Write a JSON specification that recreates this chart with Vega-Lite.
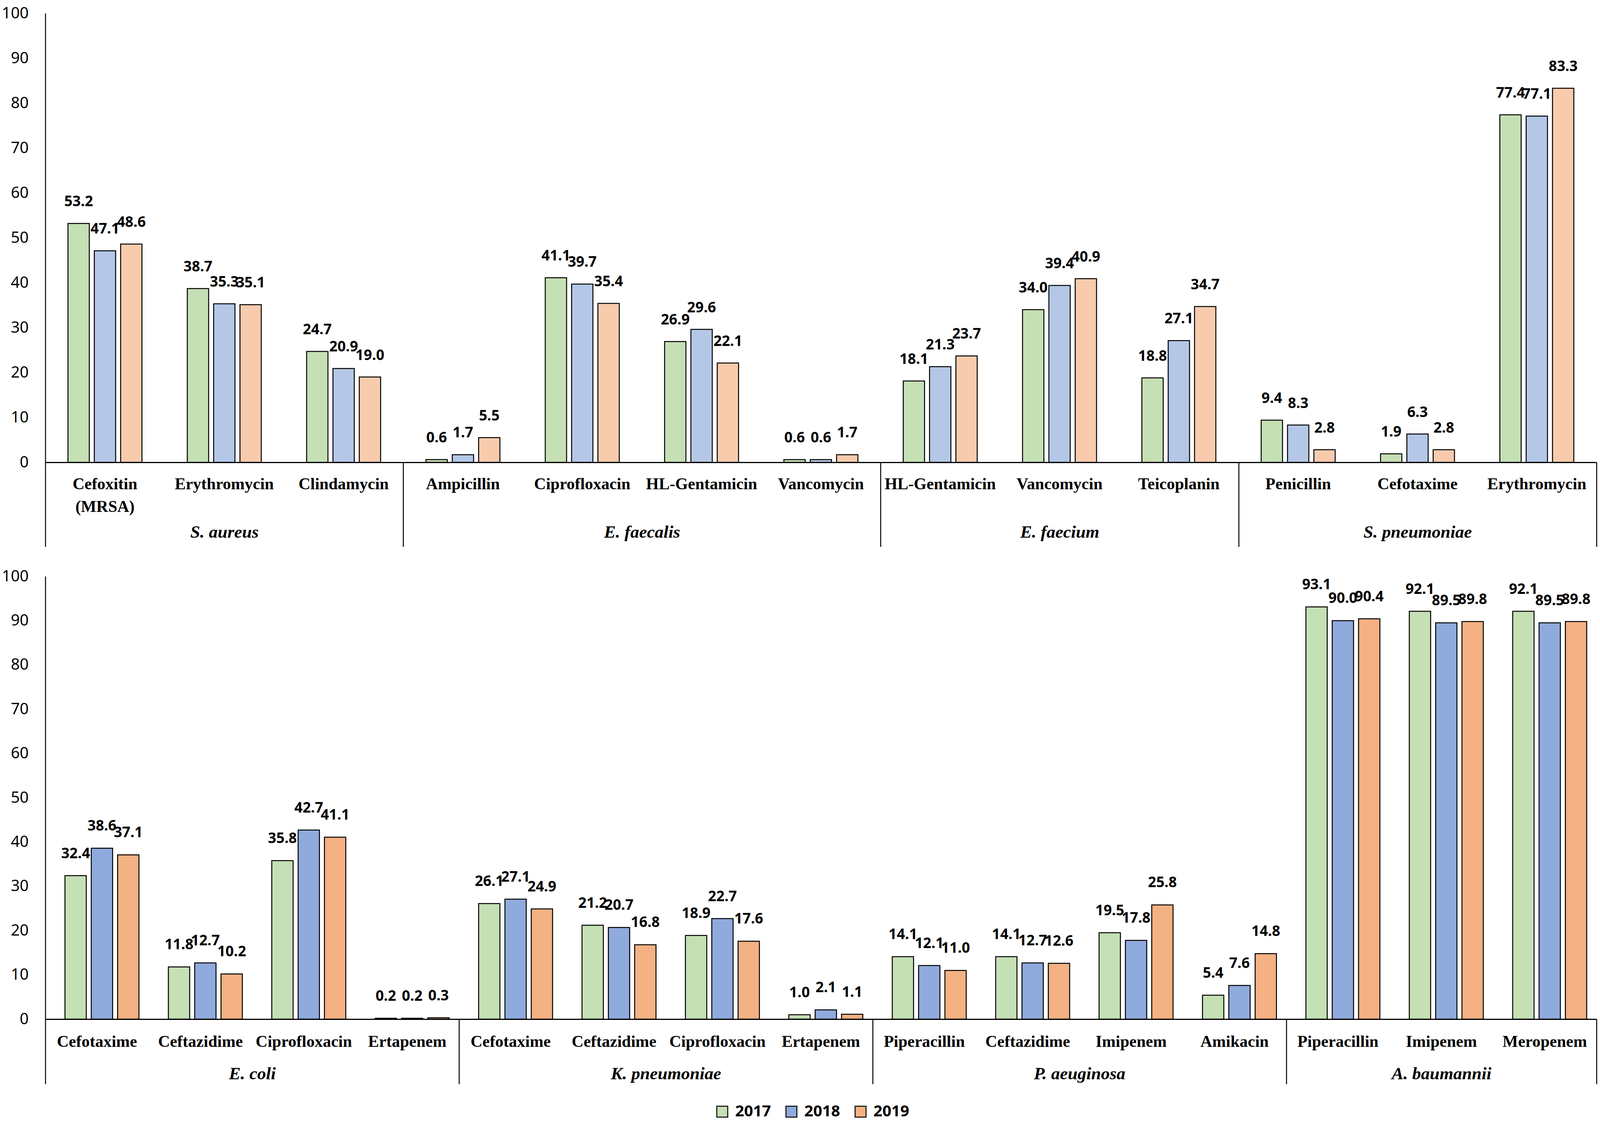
{
  "$schema": "https://vega.github.io/schema/vega-lite/v6.json",
  "background": "white",
  "padding": {"left": 4, "top": 14, "right": 5, "bottom": 5},
  "config": {
    "view": {"stroke": null},
    "axis": {"grid": false, "domainColor": "black", "labelColor": "black", "tickColor": "black"}
  },
  "datasets": {
    "top": [
      {"org": "S. aureus", "drug": "Cefoxitin (MRSA)", "year": "2017", "value": 53.2},
      {"org": "S. aureus", "drug": "Cefoxitin (MRSA)", "year": "2018", "value": 47.1},
      {"org": "S. aureus", "drug": "Cefoxitin (MRSA)", "year": "2019", "value": 48.6},
      {"org": "S. aureus", "drug": "Erythromycin", "year": "2017", "value": 38.7},
      {"org": "S. aureus", "drug": "Erythromycin", "year": "2018", "value": 35.3},
      {"org": "S. aureus", "drug": "Erythromycin", "year": "2019", "value": 35.1},
      {"org": "S. aureus", "drug": "Clindamycin", "year": "2017", "value": 24.7},
      {"org": "S. aureus", "drug": "Clindamycin", "year": "2018", "value": 20.9},
      {"org": "S. aureus", "drug": "Clindamycin", "year": "2019", "value": 19.0},
      {"org": "E. faecalis", "drug": "Ampicillin", "year": "2017", "value": 0.6},
      {"org": "E. faecalis", "drug": "Ampicillin", "year": "2018", "value": 1.7},
      {"org": "E. faecalis", "drug": "Ampicillin", "year": "2019", "value": 5.5},
      {"org": "E. faecalis", "drug": "Ciprofloxacin", "year": "2017", "value": 41.1},
      {"org": "E. faecalis", "drug": "Ciprofloxacin", "year": "2018", "value": 39.7},
      {"org": "E. faecalis", "drug": "Ciprofloxacin", "year": "2019", "value": 35.4},
      {"org": "E. faecalis", "drug": "HL-Gentamicin", "year": "2017", "value": 26.9},
      {"org": "E. faecalis", "drug": "HL-Gentamicin", "year": "2018", "value": 29.6},
      {"org": "E. faecalis", "drug": "HL-Gentamicin", "year": "2019", "value": 22.1},
      {"org": "E. faecalis", "drug": "Vancomycin", "year": "2017", "value": 0.6},
      {"org": "E. faecalis", "drug": "Vancomycin", "year": "2018", "value": 0.6},
      {"org": "E. faecalis", "drug": "Vancomycin", "year": "2019", "value": 1.7},
      {"org": "E. faecium", "drug": "HL-Gentamicin", "year": "2017", "value": 18.1},
      {"org": "E. faecium", "drug": "HL-Gentamicin", "year": "2018", "value": 21.3},
      {"org": "E. faecium", "drug": "HL-Gentamicin", "year": "2019", "value": 23.7},
      {"org": "E. faecium", "drug": "Vancomycin", "year": "2017", "value": 34.0},
      {"org": "E. faecium", "drug": "Vancomycin", "year": "2018", "value": 39.4},
      {"org": "E. faecium", "drug": "Vancomycin", "year": "2019", "value": 40.9},
      {"org": "E. faecium", "drug": "Teicoplanin", "year": "2017", "value": 18.8},
      {"org": "E. faecium", "drug": "Teicoplanin", "year": "2018", "value": 27.1},
      {"org": "E. faecium", "drug": "Teicoplanin", "year": "2019", "value": 34.7},
      {"org": "S. pneumoniae", "drug": "Penicillin", "year": "2017", "value": 9.4},
      {"org": "S. pneumoniae", "drug": "Penicillin", "year": "2018", "value": 8.3},
      {"org": "S. pneumoniae", "drug": "Penicillin", "year": "2019", "value": 2.8},
      {"org": "S. pneumoniae", "drug": "Cefotaxime", "year": "2017", "value": 1.9},
      {"org": "S. pneumoniae", "drug": "Cefotaxime", "year": "2018", "value": 6.3},
      {"org": "S. pneumoniae", "drug": "Cefotaxime", "year": "2019", "value": 2.8},
      {"org": "S. pneumoniae", "drug": "Erythromycin", "year": "2017", "value": 77.4},
      {"org": "S. pneumoniae", "drug": "Erythromycin", "year": "2018", "value": 77.1},
      {"org": "S. pneumoniae", "drug": "Erythromycin", "year": "2019", "value": 83.3}
    ],
    "bottom": [
      {"org": "E. coli", "drug": "Cefotaxime", "year": "2017", "value": 32.4},
      {"org": "E. coli", "drug": "Cefotaxime", "year": "2018", "value": 38.6},
      {"org": "E. coli", "drug": "Cefotaxime", "year": "2019", "value": 37.1},
      {"org": "E. coli", "drug": "Ceftazidime", "year": "2017", "value": 11.8},
      {"org": "E. coli", "drug": "Ceftazidime", "year": "2018", "value": 12.7},
      {"org": "E. coli", "drug": "Ceftazidime", "year": "2019", "value": 10.2},
      {"org": "E. coli", "drug": "Ciprofloxacin", "year": "2017", "value": 35.8},
      {"org": "E. coli", "drug": "Ciprofloxacin", "year": "2018", "value": 42.7},
      {"org": "E. coli", "drug": "Ciprofloxacin", "year": "2019", "value": 41.1},
      {"org": "E. coli", "drug": "Ertapenem", "year": "2017", "value": 0.2},
      {"org": "E. coli", "drug": "Ertapenem", "year": "2018", "value": 0.2},
      {"org": "E. coli", "drug": "Ertapenem", "year": "2019", "value": 0.3},
      {"org": "K. pneumoniae", "drug": "Cefotaxime", "year": "2017", "value": 26.1},
      {"org": "K. pneumoniae", "drug": "Cefotaxime", "year": "2018", "value": 27.1},
      {"org": "K. pneumoniae", "drug": "Cefotaxime", "year": "2019", "value": 24.9},
      {"org": "K. pneumoniae", "drug": "Ceftazidime", "year": "2017", "value": 21.2},
      {"org": "K. pneumoniae", "drug": "Ceftazidime", "year": "2018", "value": 20.7},
      {"org": "K. pneumoniae", "drug": "Ceftazidime", "year": "2019", "value": 16.8},
      {"org": "K. pneumoniae", "drug": "Ciprofloxacin", "year": "2017", "value": 18.9},
      {"org": "K. pneumoniae", "drug": "Ciprofloxacin", "year": "2018", "value": 22.7},
      {"org": "K. pneumoniae", "drug": "Ciprofloxacin", "year": "2019", "value": 17.6},
      {"org": "K. pneumoniae", "drug": "Ertapenem", "year": "2017", "value": 1.0},
      {"org": "K. pneumoniae", "drug": "Ertapenem", "year": "2018", "value": 2.1},
      {"org": "K. pneumoniae", "drug": "Ertapenem", "year": "2019", "value": 1.1},
      {"org": "P. aeuginosa", "drug": "Piperacillin", "year": "2017", "value": 14.1},
      {"org": "P. aeuginosa", "drug": "Piperacillin", "year": "2018", "value": 12.1},
      {"org": "P. aeuginosa", "drug": "Piperacillin", "year": "2019", "value": 11.0},
      {"org": "P. aeuginosa", "drug": "Ceftazidime", "year": "2017", "value": 14.1},
      {"org": "P. aeuginosa", "drug": "Ceftazidime", "year": "2018", "value": 12.7},
      {"org": "P. aeuginosa", "drug": "Ceftazidime", "year": "2019", "value": 12.6},
      {"org": "P. aeuginosa", "drug": "Imipenem", "year": "2017", "value": 19.5},
      {"org": "P. aeuginosa", "drug": "Imipenem", "year": "2018", "value": 17.8},
      {"org": "P. aeuginosa", "drug": "Imipenem", "year": "2019", "value": 25.8},
      {"org": "P. aeuginosa", "drug": "Amikacin", "year": "2017", "value": 5.4},
      {"org": "P. aeuginosa", "drug": "Amikacin", "year": "2018", "value": 7.6},
      {"org": "P. aeuginosa", "drug": "Amikacin", "year": "2019", "value": 14.8},
      {"org": "A. baumannii", "drug": "Piperacillin", "year": "2017", "value": 93.1},
      {"org": "A. baumannii", "drug": "Piperacillin", "year": "2018", "value": 90.0},
      {"org": "A. baumannii", "drug": "Piperacillin", "year": "2019", "value": 90.4},
      {"org": "A. baumannii", "drug": "Imipenem", "year": "2017", "value": 92.1},
      {"org": "A. baumannii", "drug": "Imipenem", "year": "2018", "value": 89.5},
      {"org": "A. baumannii", "drug": "Imipenem", "year": "2019", "value": 89.8},
      {"org": "A. baumannii", "drug": "Meropenem", "year": "2017", "value": 92.1},
      {"org": "A. baumannii", "drug": "Meropenem", "year": "2018", "value": 89.5},
      {"org": "A. baumannii", "drug": "Meropenem", "year": "2019", "value": 89.8}
    ]
  },
  "spacing": 54,
  "resolve": {"scale": {"color": "independent"}, "legend": {"color": "independent"}},
  "vconcat": [
    {
      "width": 3971,
      "height": 1150,
      "resolve": {"scale": {"x": "independent"}, "axis": {"x": "independent"}},
      "layer": [
        {
          "data": {"name": "top"},
          "transform": [{"calculate": "datum.org + '|' + datum.drug", "as": "key"}],
          "encoding": {
            "x": {
              "field": "key", "type": "nominal", "sort": null,
              "scale": {"paddingInner": 0.38, "paddingOuter": 0.19},
              "axis": {
                "title": null, "orient": "bottom", "ticks": false, "domainWidth": 3,
                "labelAngle": 0, "labelOverlap": false, "labelLimit": 0,
                "labelFont": "Liberation Serif", "labelFontWeight": "bold", "labelFontSize": 42,
                "labelBaseline": "top", "labelPadding": 35, "labelLineHeight": 58,
                "labelExpr": "datum.label == 'S. aureus|Cefoxitin (MRSA)' ? ['Cefoxitin', '(MRSA)'] : split(datum.label, '|')[1]"
              }
            },
            "xOffset": {"field": "year", "type": "nominal", "scale": {"paddingInner": 0.19, "paddingOuter": 0}},
            "y": {
              "field": "value", "type": "quantitative",
              "scale": {"domain": [0, 100], "nice": false},
              "axis": {
                "title": null, "values": [0, 10, 20, 30, 40, 50, 60, 70, 80, 90, 100],
                "ticks": false, "domainWidth": 2.5, "labelFont": "Noto Sans",
                "labelFontSize": 40, "labelPadding": 43
              }
            }
          },
          "layer": [
            {
              "mark": {"type": "bar", "stroke": "black", "strokeWidth": 2.5},
              "encoding": {
                "color": {
                  "field": "year", "type": "nominal",
                  "scale": {"domain": ["2017", "2018", "2019"], "range": ["#C5E0B4", "#B4C7E7", "#F8CBAD"]},
                  "legend": null
                }
              }
            },
            {
              "mark": {"type": "text", "baseline": "alphabetic", "dy": -44, "font": "Noto Sans", "fontWeight": "bold", "fontSize": 37, "color": "black"},
              "encoding": {"text": {"field": "value", "type": "quantitative", "format": ".1f"}}
            }
          ]
        },
        {
          "data": {"values": [{}]},
          "mark": {"type": "rule", "opacity": 0},
          "encoding": {
            "x": {
              "datum": 0, "type": "quantitative",
              "scale": {"domain": [0, 13], "nice": false, "zero": false},
              "axis": {
                "title": null, "orient": "bottom", "domain": false, "grid": false,
                "values": [0, 1.5, 3, 5, 7, 8.5, 10, 11.5, 13],
                "tickSize": 216, "tickWidth": 2.5,
                "tickOpacity": {"condition": {"test": "datum.value == 0 || datum.value == 3 || datum.value == 7 || datum.value == 10 || datum.value == 13", "value": 1}, "value": 0},
                "labelExpr": "datum.value == 1.5 ? 'S. aureus' : datum.value == 5 ? 'E. faecalis' : datum.value == 8.5 ? 'E. faecium' : datum.value == 11.5 ? 'S. pneumoniae' : ''",
                "labelFont": "Liberation Serif", "labelFontStyle": "italic", "labelFontWeight": "bold", "labelFontSize": 45,
                "labelBaseline": "middle", "labelPadding": -38, "labelLimit": 0,
                "labelFlush": false, "labelOverlap": false, "labelBound": false
              }
            }
          }
        }
      ]
    },
    {
      "width": 3971,
      "height": 1134,
      "resolve": {"scale": {"x": "independent"}, "axis": {"x": "independent"}},
      "layer": [
        {
          "data": {"name": "bottom"},
          "transform": [{"calculate": "datum.org + '|' + datum.drug", "as": "key"}],
          "encoding": {
            "x": {
              "field": "key", "type": "nominal", "sort": null,
              "scale": {"paddingInner": 0.38, "paddingOuter": 0.19},
              "axis": {
                "title": null, "orient": "bottom", "ticks": false, "domainWidth": 3,
                "labelAngle": 0, "labelOverlap": false, "labelLimit": 0,
                "labelFont": "Liberation Serif", "labelFontWeight": "bold", "labelFontSize": 42,
                "labelBaseline": "top", "labelPadding": 37,
                "labelExpr": "split(datum.label, '|')[1]"
              }
            },
            "xOffset": {"field": "year", "type": "nominal", "scale": {"paddingInner": 0.19, "paddingOuter": 0}},
            "y": {
              "field": "value", "type": "quantitative",
              "scale": {"domain": [0, 100], "nice": false},
              "axis": {
                "title": null, "values": [0, 10, 20, 30, 40, 50, 60, 70, 80, 90, 100],
                "ticks": false, "domainWidth": 2.5, "labelFont": "Noto Sans",
                "labelFontSize": 40, "labelPadding": 43
              }
            }
          },
          "layer": [
            {
              "mark": {"type": "bar", "stroke": "black", "strokeWidth": 2.5},
              "encoding": {
                "color": {
                  "field": "year", "type": "nominal",
                  "scale": {"domain": ["2017", "2018", "2019"], "range": ["#C5E0B4", "#8FAADC", "#F4B183"]},
                  "legend": {
                    "title": null, "orient": "none", "direction": "horizontal",
                    "legendX": 1713, "legendY": 1351,
                    "symbolType": "square", "symbolSize": 784, "symbolStrokeColor": "black",
                    "symbolStrokeWidth": 2.5, "symbolOpacity": 1,
                    "labelFont": "Noto Sans", "labelFontWeight": "bold", "labelFontSize": 40,
                    "labelColor": "black", "labelOffset": 13, "columnPadding": 32
                  }
                }
              }
            },
            {
              "mark": {"type": "text", "baseline": "alphabetic", "dy": -45, "font": "Noto Sans", "fontWeight": "bold", "fontSize": 37, "color": "black"},
              "encoding": {"text": {"field": "value", "type": "quantitative", "format": ".1f"}}
            }
          ]
        },
        {
          "data": {"values": [{}]},
          "mark": {"type": "rule", "opacity": 0},
          "encoding": {
            "x": {
              "datum": 0, "type": "quantitative",
              "scale": {"domain": [0, 15], "nice": false, "zero": false},
              "axis": {
                "title": null, "orient": "bottom", "domain": false, "grid": false,
                "values": [0, 2, 4, 6, 8, 10, 12, 13.5, 15],
                "tickSize": 166, "tickWidth": 2.5,
                "tickOpacity": {"condition": {"test": "datum.value == 0 || datum.value == 4 || datum.value == 8 || datum.value == 12 || datum.value == 15", "value": 1}, "value": 0},
                "labelExpr": "datum.value == 2 ? 'E. coli' : datum.value == 6 ? 'K. pneumoniae' : datum.value == 10 ? 'P. aeuginosa' : datum.value == 13.5 ? 'A. baumannii' : ''",
                "labelFont": "Liberation Serif", "labelFontStyle": "italic", "labelFontWeight": "bold", "labelFontSize": 45,
                "labelBaseline": "middle", "labelPadding": -27, "labelLimit": 0,
                "labelFlush": false, "labelOverlap": false, "labelBound": false
              }
            }
          }
        }
      ]
    }
  ]
}
